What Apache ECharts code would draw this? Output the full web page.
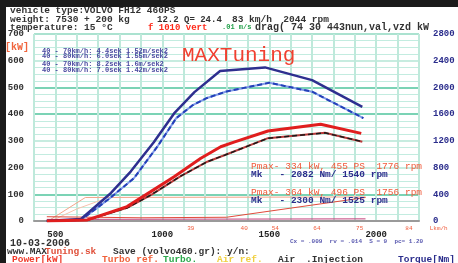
<!DOCTYPE html>
<html>
<head>
<meta charset="utf-8">
<title>dyno</title>
<style>
html,body{margin:0;padding:0;width:100%;height:100%;overflow:hidden;background:#fff;}
#main{width:458px;height:263px;}
</style>
<script src="https://cdn.jsdelivr.net/npm/echarts@6/dist/echarts.min.js"></script>
</head>
<body>
<div id="main"></div>
<script>
// curves: [rpm, value]
var tunedTorque = [[460,0],[620,30],[760,420],[852,740],[960,1180],[1055,1610],[1150,1930],[1270,2245],[1480,2300],[1700,2110],[1935,1710]];
var origTorque = [[460,0],[620,15],[750,330],[867,640],[980,1130],[1065,1540],[1140,1730],[1209,1842],[1300,1940],[1500,2070],[1700,1936],[1940,1540]];
var tunedPower = [[460,0],[650,4],[835,54],[946,110],[1055,166],[1180,235],[1273,278],[1335,295],[1494,337],[1740,362],[1930,328]];
var origPower = [[460,0],[650,4],[835,49],[946,97],[1086,168],[1210,222],[1293,247],[1494,310],[1760,330],[1935,297]];
var turboRef = [[470,2],[640,88],[1950,90]];
var turbo = [[480,0],[600,45],[720,80]];
var lossLine = [[460,16],[900,12],[1300,14],[1950,88]];
var lossFlat = [[460,6],[1950,8]];

// rpm points carrying a value label (power labels are shown in PS)
var torqueLabelRpm = [852, 1055, 1270, 1480, 1700, 1935];
var origTorqueLabelRpm = [867, 1065, 1209, 1500, 1700, 1940];
var powerLabelRpm = [1055, 1273, 1494, 1740, 1930];
var origPowerLabelRpm = [1086, 1293, 1494, 1760, 1935];
var psPerKw = 1.3596;

// small speed marks under the rpm axis
var speedRpm = [1130, 1380, 1525, 1720, 1920, 2150];
var speedText = ['39', '40', '54', '64', '75', '84'];

var xTickLabels = [500, 1000, 1500, 2000];

var mono = 'Liberation Mono';

function withLabels(points, picks, color, fmt) {
  return points.map(function (p) {
    var on = picks.indexOf(p[0]) >= 0;
    return {value: p, label: {show: on, formatter: fmt ? fmt(p[1]) : String(p[1]), color: color, fontSize: 6, fontFamily: mono, position: 'left', distance: 2, offset: [0, -3]}};
  });
}
function ps(v) { return String(Math.round(v * psPerKw)); }

var chart = echarts.init(document.getElementById('main'));

var yMajorColors = ['#b5e6d6', '#4fc49c', '#b5e6d6', '#b5e6d6', '#4fc49c', '#4fc49c', '#b5e6d6', '#8fd8c0'];

var option = {
  animation: false,
  backgroundColor: '#fff',
  grid: {left: 34, right: 39, top: 34, bottom: 42},
  xAxis: {
    type: 'value', min: 400, max: 2200, interval: 100,
    axisLine: {show: true, lineStyle: {color: '#9a9a9a', width: 2}},
    axisTick: {show: false},
    splitLine: {show: true, lineStyle: {color: '#bfe9db', width: 2}},
    axisLabel: {
      margin: 9, color: '#222', fontFamily: mono, fontWeight: 'bold', fontSize: 9,
      formatter: function (v) { return xTickLabels.indexOf(v) >= 0 ? String(v) : ''; }
    }
  },
  yAxis: [{
    type: 'value', min: 0, max: 700, interval: 100, position: 'left',
    axisLine: {show: false}, axisTick: {show: false},
    splitLine: {show: true, lineStyle: {color: yMajorColors, width: 1.5}},
    minorTick: {show: false, splitNumber: 4},
    minorSplitLine: {show: true, lineStyle: {color: '#c3ece0', width: 1}},
    axisLabel: {margin: 10, color: '#333', fontFamily: mono, fontWeight: 'bold', fontSize: 9}
  }, {
    type: 'value', min: 0, max: 2800, interval: 400, position: 'right',
    axisLine: {show: false}, axisTick: {show: false}, splitLine: {show: false},
    axisLabel: {margin: 14, color: '#2b2d8c', fontFamily: mono, fontWeight: 'bold', fontSize: 9,
      formatter: function (v) { return String(v); }}
  }],
  series: [
    {type: 'line', yAxisIndex: 0, data: turboRef, symbol: 'none', lineStyle: {color: '#f2a58a', width: 1}, z: 2},
    {type: 'line', yAxisIndex: 0, data: turbo, symbol: 'none', lineStyle: {color: '#f7c2ad', width: 1}, z: 2},
    {type: 'line', yAxisIndex: 0, data: lossLine, symbol: 'none', lineStyle: {color: '#e04a3a', width: 1}, z: 2},
    {type: 'line', yAxisIndex: 0, data: lossFlat, symbol: 'none', lineStyle: {color: '#c0407a', width: 1}, z: 2},
    {type: 'line', yAxisIndex: 1, data: withLabels(origTorque, origTorqueLabelRpm, '#3a55c8'), symbol: 'none',
      lineStyle: {color: '#7f9ae8', width: 2}, z: 3},
    {type: 'line', yAxisIndex: 1, data: origTorque, symbol: 'none',
      lineStyle: {color: '#2440b8', width: 2, type: [5, 3]}, z: 4},
    {type: 'line', yAxisIndex: 1, data: withLabels(tunedTorque, torqueLabelRpm, '#2e2f8f'), symbol: 'none',
      lineStyle: {color: '#2e2f8f', width: 2.5}, z: 5},
    {type: 'line', yAxisIndex: 0, data: withLabels(origPower, origPowerLabelRpm, '#333', ps), symbol: 'none',
      lineStyle: {color: '#b83a3a', width: 2}, z: 3},
    {type: 'line', yAxisIndex: 0, data: origPower, symbol: 'none',
      lineStyle: {color: '#1a1a1a', width: 1.5, type: [5, 3]}, z: 4},
    {type: 'line', yAxisIndex: 0, data: withLabels(tunedPower, powerLabelRpm, '#f05a3a', ps), symbol: 'none',
      lineStyle: {color: '#e01e1e', width: 3}, z: 5}
  ]
};
chart.setOption(option);

function txt(x, y, s, color, size, extra) {
  var st = {text: s, fill: color || '#222', fontFamily: mono, fontWeight: 'bold', fontSize: size || 9, verticalAlign: 'middle'};
  if (extra) { for (var k in extra) st[k] = extra[k]; }
  return {type: 'text', x: x, y: y, style: st, z: 100};
}

var g = [
  {type: 'rect', shape: {x: 0, y: 0, width: 458, height: 7}, style: {fill: '#1b1b1b'}, z: 90},
  {type: 'rect', shape: {x: 0, y: 0, width: 6, height: 263}, style: {fill: '#1b1b1b'}, z: 90},
  txt(10, 11, 'vehicle type:VOLVO FH12 460PS', '#333', 9.5),
  txt(10, 19.5, 'weight: 7530 + 200 kg', '#333', 9.5),
  txt(157, 19.5, '12.2 Q= 24.4', '#333', 9),
  txt(232, 19.5, '83 km/h  2044 rpm', '#333', 9.5),
  txt(10, 27.5, 'temperature: 15 \u00b0C', '#333', 9.5),
  txt(148, 27.5, 'f 1010 vert', '#ff2a1a', 9),
  txt(222, 27.5, '.01 m/s', '#22a04a', 7),
  txt(255, 27.5, 'drag( 74 30 443nun,val,vzd kW', '#333', 10),
  txt(5, 47, '[kW]', '#f0643c', 10),
  txt(42, 51, '40 - 70km/h: 4.4sek 1.52m/sek2', '#4a4aa0', 7),
  txt(42, 56, '40 - 80km/h: 6.0sek 1.55m/sek2', '#4a4aa0', 7),
  txt(42, 64.5, '40 - 70km/h: 8.2sek 1.6m/sek2', '#4a4aa0', 7),
  txt(42, 70, '40 - 80km/h: 7.0sek 1.42m/sek2', '#4a4aa0', 7),
  txt(182, 55, 'MAXTuning', '#f04030', 21, {fontWeight: 'normal', textShadowColor: '#2fb36a', textShadowOffsetX: 1, textShadowOffsetY: 1, textShadowBlur: 0}),
  txt(251, 166, 'Pmax- 334 kW, 455 PS  1776 rpm', '#f05a3a', 9.5, {fontWeight: 'normal'}),
  txt(251, 175, 'Mk   - 2082 Nm/ 1540 rpm', '#2b2d8c', 9.5),
  txt(251, 192, 'Pmax- 364 kW, 496 PS  1756 rpm', '#f05a3a', 9.5, {fontWeight: 'normal'}),
  txt(251, 201, 'Mk   - 2300 Nm/ 1525 rpm', '#2b2d8c', 9.5),
  txt(290, 241, 'Cx = .009  rv = .014  S = 9  pc= 1.20', '#5a5ab0', 6),
  txt(10, 243, '10-03-2006', '#333', 10),
  txt(7, 251.5, 'www.MAX', '#333', 9.5),
  txt(45, 251.5, 'Tuning.sk', '#e0503a', 9.5),
  txt(113, 251.5, 'Save (volvo460.gr): y/n:', '#333', 9.5),
  txt(12, 259.5, 'Power[kW]', '#f03a2a', 9.5),
  txt(102, 259.5, 'Turbo ref.', '#f0603a', 9.5),
  txt(163, 259.5, 'Turbo.', '#2aa84a', 9.5),
  txt(217, 259.5, 'Air ref.', '#f0d040', 9.5),
  txt(278, 259.5, 'Air', '#333', 9.5),
  txt(306, 259.5, '.Injection', '#333', 9.5),
  txt(398, 259.5, 'Torque[Nm]', '#2b2d8c', 9.5)
];

// speed marks placed through the x scale
speedRpm.forEach(function (r, i) {
  var px = chart.convertToPixel({xAxisIndex: 0}, r);
  g.push(txt(px - 3, 228, speedText[i], '#f05a3a', 6, {fontWeight: 'normal'}));
});
g.push(txt(chart.convertToPixel({xAxisIndex: 0}, 2250), 228, 'Lkm/h', '#f05a3a', 6, {fontWeight: 'normal'}));

chart.setOption({graphic: g});
</script>
</body>
</html>
